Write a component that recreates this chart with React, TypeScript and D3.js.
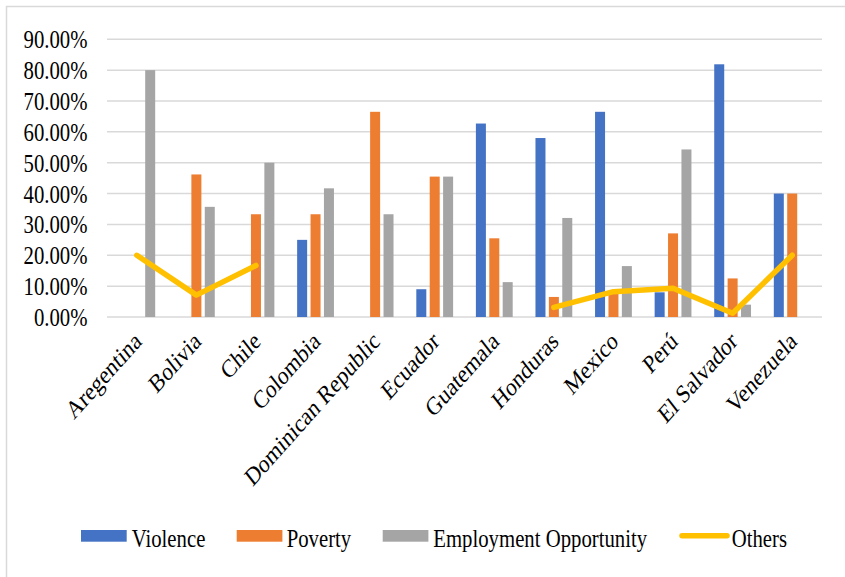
import React from "react";
import * as d3 from "d3";

const categories = ["Aregentina", "Bolivia", "Chile", "Colombia", "Dominican Republic", "Ecuador", "Guatemala", "Honduras", "Mexico", "Perú", "El Salvador", "Venezuela"];
const seriesNames = ["Violence", "Poverty", "Employment Opportunity"];
const violence = [0, 0, 0, 0.25, 0, 0.09, 0.627, 0.58, 0.665, 0.08, 0.819, 0.40];
const poverty = [0, 0.462, 0.333, 0.333, 0.665, 0.455, 0.255, 0.065, 0.075, 0.271, 0.125, 0.40];
const employment = [0.80, 0.357, 0.50, 0.417, 0.333, 0.455, 0.113, 0.321, 0.165, 0.543, 0.04, 0];
const others: (number | null)[] = [0.20, 0.071, 0.167, null, null, null, null, 0.031, 0.082, 0.093, 0.012, 0.20];
const yTicks = [0, 0.1, 0.2, 0.3, 0.4, 0.5, 0.6, 0.7, 0.8, 0.9];
const colors = ["#4472C4", "#ED7D31", "#A5A5A5"];
const lineColor = "#FFC000";

const W = 845, H = 577;
const FONT = "'Liberation Serif', 'Times New Roman', serif";
const SX = 0.83;

export default function App() {
  const x0 = d3.scaleBand().domain(categories).range([107, 822]).padding(0);
  const x1 = d3.scaleBand().domain(seriesNames).range([-18.4, 18.4]).paddingInner(0.254).paddingOuter(0);
  const y = d3.scaleLinear().domain([0, 0.9]).range([317, 39.3]);
  const seriesData = [violence, poverty, employment];
  const cx = (c: string) => (x0(c) as number) + x0.bandwidth() / 2;
  const line = d3.line<number | null>()
    .defined((d) => d !== null)
    .x((_, i) => cx(categories[i]))
    .y((d) => y(d as number));

  const legend = [
    { label: "Violence", kind: "rect", color: colors[0], sx: 81, tx: 131.7 },
    { label: "Poverty", kind: "rect", color: colors[1], sx: 236.7, tx: 286.7 },
    { label: "Employment Opportunity", kind: "rect", color: colors[2], sx: 382.7, tx: 433.3 },
    { label: "Others", kind: "line", color: lineColor, sx: 680, tx: 731.7 },
  ];

  return (
    <svg width={W} height={H} style={{ position: "absolute", left: 0, top: 0, background: "#fff" }} fontFamily={FONT}>
      <rect x={6.5} y={6.5} width={W + 10} height={H + 10} fill="#fff" stroke="#d9d9d9" strokeWidth={1.5} />
      {yTicks.map((t) => (
        <g key={t}>
          <line x1={107} x2={822} y1={y(t)} y2={y(t)} stroke="#d9d9d9" strokeWidth={1.5} />
          <text transform={`translate(87.5,${y(t) + 9}) scale(${SX},1)`} textAnchor="end" fontSize={25} fill="#000">
            {(t * 100).toFixed(2) + "%"}
          </text>
        </g>
      ))}
      {seriesData.map((vals, si) => (
        <g key={si} fill={colors[si]}>
          {vals.map((v, i) =>
            v > 0 ? (
              <rect
                key={i}
                x={cx(categories[i]) + (x1(seriesNames[si]) as number)}
                y={y(v)}
                width={x1.bandwidth()}
                height={y(0) - y(v)}
              />
            ) : null
          )}
        </g>
      ))}
      <path d={line(others) || ""} fill="none" stroke={lineColor} strokeWidth={5.5} strokeLinejoin="round" strokeLinecap="round" />
      {categories.map((c) => (
        <text
          key={c}
          transform={`translate(${cx(c) + 6},343) scale(${SX},1) rotate(-43)`}
          textAnchor="end"
          fontSize={25.5}
          fill="#000"
        >
          {c}
        </text>
      ))}
      {legend.map((l) => (
        <g key={l.label}>
          {l.kind === "rect" ? (
            <rect x={l.sx} y={530} width={45.7} height={11.7} fill={l.color} />
          ) : (
            <line x1={l.sx + 2} x2={l.sx + 47} y1={535.7} y2={535.7} stroke={l.color} strokeWidth={5.5} strokeLinecap="round" />
          )}
          <text transform={`translate(${l.tx},546.7) scale(${SX},1)`} fontSize={25} fill="#000">
            {l.label}
          </text>
        </g>
      ))}
    </svg>
  );
}
